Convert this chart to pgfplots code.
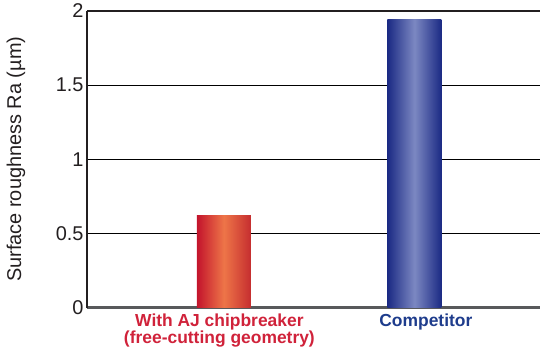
\documentclass[border=0pt]{standalone}
\usepackage{pgfplots}
\pgfplotsset{compat=1.18}
\usepackage{fontspec}
\setmainfont{Liberation Sans}

\definecolor{labred}{HTML}{D0223A}
\definecolor{labblue}{HTML}{1E3C8C}
\definecolor{redEdge}{HTML}{C3142C}
\definecolor{redEdgeR}{HTML}{C52D2F}
\definecolor{redMid}{HTML}{EE7548}
\definecolor{blueEdge}{HTML}{1B2A84}
\definecolor{blueMid}{HTML}{7C88C2}
\definecolor{frame}{HTML}{231F20}
\definecolor{baseline}{HTML}{58595B}

\begin{document}
\begin{tikzpicture}
\begin{axis}[
  scale only axis,
  width=453bp, height=296.5bp,
  xmin=-0.719, xmax=1.659,
  ymin=0, ymax=2,
  axis lines*=left,
  x axis line style={draw=baseline, line width=2bp},
  y axis line style={draw=frame, line width=1.5bp},
  major tick length=0pt,
  ytick={0,0.5,1,1.5},
  yticklabels={0,0.5,1,1.5},
  extra y ticks={2},
  extra y tick labels={2},
  extra y tick style={grid style={draw=frame, line width=1.5bp}},
  ymajorgrids,
  grid style={draw=black, line width=0.9bp},
  yticklabel style={font=\fontsize{20}{24}\selectfont, text=frame},
  ylabel={Surface roughness Ra (µm)},
  ylabel style={font=\fontsize{20}{24}\selectfont, text=frame,
    at={(axis description cs:-0.157,0.5)}, anchor=center},
  xtick={-0.024,1.06},
  xticklabels={
    {\color{labred}With AJ chipbreaker\\\color{labred}(free-cutting geometry)},
    {\color{labblue}Competitor}},
  xticklabel style={font=\bfseries\fontsize{17.5}{15.5}\selectfont,
    align=center, anchor=north, yshift=-3bp},
]
% AJ chipbreaker bar
\addplot[ybar, bar width=54bp, bar shift=0pt, draw=none,
  left color=redEdge, right color=redEdgeR, middle color=redMid]
  coordinates {(0,0.62)};
% Competitor bar
\addplot[ybar, bar width=54bp, bar shift=0pt, draw=none,
  left color=blueEdge, right color=blueEdge, middle color=blueMid]
  coordinates {(1,1.94)};
\end{axis}
\pgfresetboundingbox
\useasboundingbox ([xshift=-87bp,yshift=-43.5bp]current axis.south west)
  rectangle +(540bp,351bp);
\end{tikzpicture}
\end{document}
